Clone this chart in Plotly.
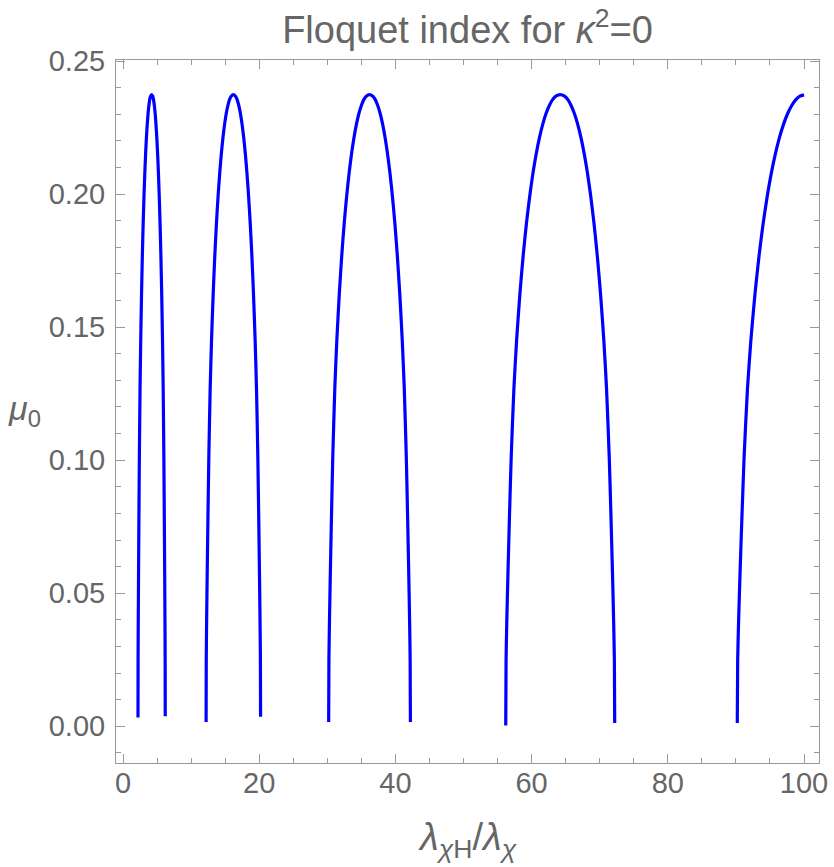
import plotly.graph_objects as go

# Floquet index arches (x = lambda_chiH/lambda_chi, y = mu_0)
arch1_x = [2.2, 2.212, 2.24, 2.28, 2.34, 2.4, 2.5, 2.6, 2.72, 2.84, 2.96, 3.08, 3.2, 3.32, 3.44,
           3.56, 3.68, 3.8, 3.92, 4.04, 4.2,
           4.36, 4.48, 4.6, 4.72, 4.84, 4.96, 5.08, 5.2, 5.32, 5.44, 5.56, 5.68, 5.8, 5.9, 6.0,
           6.06, 6.12, 6.16, 6.188, 6.2]
arch1_y = [0.0033, 0.025, 0.040, 0.057, 0.080, 0.101, 0.127, 0.1452, 0.1625, 0.1769, 0.1890,
           0.1992, 0.2079, 0.2152, 0.2213, 0.2263, 0.2303, 0.2333, 0.2355, 0.2368, 0.2374,
           0.2368, 0.2355, 0.2333, 0.2303, 0.2263, 0.2213, 0.2152, 0.2079, 0.1992, 0.1890,
           0.1769, 0.1625, 0.1452, 0.127, 0.101, 0.080, 0.057, 0.040, 0.025, 0.0038]

arch2_x = [12.2, 12.224, 12.28, 12.36, 12.48, 12.6, 12.8, 13.0, 13.24, 13.48, 13.72, 13.96, 14.2,
           14.44, 14.68, 14.92, 15.16, 15.4, 15.64, 15.88, 16.2,
           16.52, 16.76, 17.0, 17.24, 17.48, 17.72, 17.96, 18.2, 18.44, 18.68, 18.92, 19.16, 19.4,
           19.6, 19.8, 19.92, 20.04, 20.12, 20.176, 20.2]
arch2_y = [0.0016, 0.025, 0.040, 0.057, 0.080, 0.101, 0.127, 0.1452, 0.1625, 0.1769, 0.1890,
           0.1992, 0.2079, 0.2152, 0.2213, 0.2263, 0.2303, 0.2333, 0.2355, 0.2368, 0.2374,
           0.2368, 0.2355, 0.2333, 0.2303, 0.2263, 0.2213, 0.2152, 0.2079, 0.1992, 0.1890,
           0.1769, 0.1625, 0.1452, 0.127, 0.101, 0.080, 0.057, 0.040, 0.025, 0.0036]

arch3_x = [30.2, 30.236, 30.32, 30.44, 30.62, 30.8, 31.1, 31.4, 31.76, 32.12, 32.48, 32.84, 33.2,
           33.56, 33.92, 34.28, 34.64, 35.0, 35.36, 35.72, 36.2,
           36.68, 37.04, 37.4, 37.76, 38.12, 38.48, 38.84, 39.2, 39.56, 39.92, 40.28, 40.64, 41.0,
           41.3, 41.6, 41.78, 41.96, 42.08, 42.164, 42.2]
arch3_y = [0.0016, 0.025, 0.040, 0.057, 0.080, 0.101, 0.127, 0.1452, 0.1625, 0.1769, 0.1890,
           0.1992, 0.2079, 0.2152, 0.2213, 0.2263, 0.2303, 0.2333, 0.2355, 0.2368, 0.2374,
           0.2368, 0.2355, 0.2333, 0.2303, 0.2263, 0.2213, 0.2152, 0.2079, 0.1992, 0.1890,
           0.1769, 0.1625, 0.1452, 0.127, 0.101, 0.080, 0.057, 0.040, 0.025, 0.0016]

arch4_x = [56.2, 56.248, 56.36, 56.52, 56.76, 57.0, 57.4, 57.8, 58.28, 58.76, 59.24, 59.72, 60.2,
           60.68, 61.16, 61.64, 62.12, 62.6, 63.08, 63.56, 64.2,
           64.84, 65.32, 65.8, 66.28, 66.76, 67.24, 67.72, 68.2, 68.68, 69.16, 69.64, 70.12, 70.6,
           71.0, 71.4, 71.64, 71.88, 72.04, 72.152, 72.2]
arch4_y = [0.0003, 0.025, 0.040, 0.057, 0.080, 0.101, 0.127, 0.1452, 0.1625, 0.1769, 0.1890,
           0.1992, 0.2079, 0.2152, 0.2213, 0.2263, 0.2303, 0.2333, 0.2355, 0.2368, 0.2374,
           0.2368, 0.2355, 0.2333, 0.2303, 0.2263, 0.2213, 0.2152, 0.2079, 0.1992, 0.1890,
           0.1769, 0.1625, 0.1452, 0.127, 0.101, 0.080, 0.057, 0.040, 0.025, 0.0012]

arch5_x = [90.2, 90.26, 90.4, 90.6, 90.9, 91.2, 91.7, 92.2, 92.8, 93.4, 94.0, 94.6, 95.2,
           95.8, 96.4, 97.0, 97.6, 98.2, 98.8, 99.4, 100.0]
arch5_y = [0.0012, 0.025, 0.040, 0.057, 0.080, 0.101, 0.127, 0.1452, 0.1625, 0.1769, 0.1890,
           0.1992, 0.2079, 0.2152, 0.2213, 0.2263, 0.2303, 0.2333, 0.2355, 0.2368, 0.2373]

arches = [(arch1_x, arch1_y), (arch2_x, arch2_y), (arch3_x, arch3_y),
          (arch4_x, arch4_y), (arch5_x, arch5_y)]

x_ticks = [0, 20, 40, 60, 80, 100]
y_ticks = [0.00, 0.05, 0.10, 0.15, 0.20, 0.25]

GRAY = "#666666"
FRAME = "#9a9a9a"
FONT = "Liberation Sans"

fig = go.Figure()
for ax, ay in arches:
    fig.add_trace(go.Scatter(x=ax, y=ay, mode="lines",
                             line=dict(color="#0000ff", width=3.2, shape="spline", smoothing=0.6),
                             showlegend=False, hoverinfo="skip"))

common = dict(showline=True, linecolor=FRAME, linewidth=1, mirror="ticks",
              ticks="inside", ticklen=9, tickcolor=FRAME, tickwidth=1,
              showgrid=False, zeroline=False,
              tickfont=dict(family=FONT, size=29, color=GRAY))

fig.update_xaxes(range=[-1.03, 102.2], tickvals=x_ticks,
                 minor=dict(dtick=5, tick0=0, ticks="inside", ticklen=5, tickcolor=FRAME, showgrid=False),
                 ticklabelstandoff=-6, **common)
fig.update_yaxes(range=[-0.0138, 0.2504], tickvals=y_ticks, tickformat=".2f",
                 minor=dict(dtick=0.01, tick0=0, ticks="inside", ticklen=5, tickcolor=FRAME, showgrid=False),
                 ticklabelstandoff=4, **common)

fig.update_layout(
    width=834, height=867,
    margin=dict(l=116, r=15, t=60, b=104, autoexpand=False),
    paper_bgcolor="white", plot_bgcolor="white",
    title=dict(text="Floquet index for <i>κ</i><sup>2</sup>=0", x=0.5, xref="paper",
               y=1 - 30 / 867, yref="container", xanchor="center", yanchor="middle",
               font=dict(family=FONT, size=38, color=GRAY)),
    annotations=[
        dict(text="<i>λ</i><sub><i>χ</i>H</sub>/<i>λ</i><sub><i>χ</i></sub>", xref="paper", yref="paper",
             x=0.5, y=-77 / 703, xanchor="center", yanchor="middle", showarrow=False,
             font=dict(family=FONT, size=38, color=GRAY)),
        dict(text="<i>μ</i><sub>0</sub>", xref="paper", yref="paper",
             x=(24 - 116) / 703, y=(763 - 410) / 703, xanchor="center", yanchor="middle",
             showarrow=False, font=dict(family=FONT, size=34, color=GRAY)),
    ],
)

fig.write_html("out.html")
